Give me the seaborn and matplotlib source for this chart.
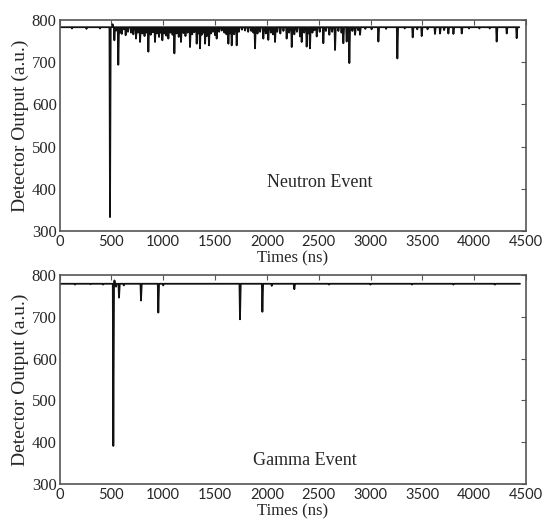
import numpy as np
import pandas as pd
import matplotlib
matplotlib.use("Agg")
import matplotlib.pyplot as plt
import seaborn as sns

# --- valores ---
x_ticks = [0, 500, 1000, 1500, 2000, 2500, 3000, 3500, 4000, 4500]
y_ticks = [300, 400, 500, 600, 700, 800]

neutron_base = 783
neutron_end = 4435
neutron_dip_t = [120, 260, 390,
                 487, 512, 529, 548, 567, 584, 600, 620, 638, 660, 690, 712, 738, 757, 777, 800,
                 820, 840, 857, 880, 900, 921, 940, 960, 975, 992, 1010, 1030, 1050, 1070, 1090,
                 1108, 1130, 1150, 1172, 1195, 1215, 1235, 1259, 1280, 1300, 1323, 1340, 1355,
                 1372, 1390, 1404, 1422, 1442, 1460, 1480, 1500, 1516, 1540, 1565, 1590, 1610,
                 1629, 1645, 1661, 1685, 1709, 1730, 1760, 1790, 1820, 1850, 1870, 1886, 1910,
                 1935, 1966, 1990, 2014, 2040, 2060, 2079, 2100, 2130, 2160, 2191, 2215, 2240,
                 2265, 2290, 2320, 2336, 2360, 2384, 2400, 2416, 2440, 2460, 2481, 2510, 2545,
                 2570, 2603, 2630, 2658, 2690, 2720, 2738, 2770, 2796, 2825, 2851, 2880, 2899,
                 2950, 3010, 3076, 3150, 3259, 3330, 3407, 3450, 3494, 3550, 3622, 3671, 3710,
                 3751, 3800, 3880, 3950, 4050, 4150, 4217, 4314, 4410]
neutron_dip_v = [780, 779, 780,
                 333, 790, 752, 775, 694, 770, 767, 778, 764, 772, 770, 766, 756, 770, 748, 768,
                 762, 770, 725, 765, 771, 748, 768, 760, 770, 752, 768, 763, 756, 770, 765,
                 721, 768, 760, 748, 769, 762, 770, 736, 766, 771, 744, 768, 733,
                 765, 770, 744, 762, 740, 768, 772, 764, 756, 772, 775, 770, 766,
                 744, 768, 740, 766, 740, 772, 777, 775, 772, 774, 770, 733, 768,
                 772, 756, 768, 753, 770, 766, 748, 772, 768, 774, 756, 770, 736,
                 766, 772, 761, 748, 770, 737, 768, 733, 770, 776, 761, 772, 745,
                 774, 765, 772, 729, 774, 770, 745, 749, 698, 774, 765, 776, 765,
                 779, 778, 749, 779, 709, 780, 759, 778, 762, 778, 767, 768, 776,
                 768, 767, 768, 780, 780, 780, 749, 768, 757]

gamma_base = 779
gamma_end = 4442
gamma_dip_t = [150, 300, 420, 519, 530, 545, 574, 620, 786, 953, 1000, 1741, 1957, 2047,
               2265, 2600, 3000, 3400, 3800, 4200]
gamma_dip_v = [777, 778, 777, 391, 787, 772, 746, 775, 739, 710, 775, 694, 712, 774,
               766, 777, 777, 777, 777, 777]


def traza(base, fin, dip_t, dip_v):
    # une la linea base con cada minimo leido
    t = [0]
    v = [base]
    for ti, vi in zip(dip_t, dip_v):
        t += [ti - 5, ti, ti + 7]
        v += [base, vi, base]
    t.append(fin)
    v.append(base)
    return pd.DataFrame({"Times (ns)": t, "Detector Output (a.u.)": v})


df_neutron = traza(neutron_base, neutron_end, neutron_dip_t, neutron_dip_v)
df_gamma = traza(gamma_base, gamma_end, gamma_dip_t, gamma_dip_v)

sns.set_style("white")
plt.rcParams["font.family"] = ["Liberation Serif", "DejaVu Serif"]

fig = plt.figure(figsize=(5.44, 5.23), dpi=100)
ax1 = fig.add_axes([0.1094, 0.5583, 0.8575, 0.4034])
ax2 = fig.add_axes([0.1094, 0.0746, 0.8575, 0.3996])

paneles = [(ax1, df_neutron, "Neutron Event", 2513, 416),
           (ax2, df_gamma, "Gamma Event", 2368, 355)]

for ax, datos, etiqueta, tx, ty in paneles:
    sns.lineplot(data=datos, x="Times (ns)", y="Detector Output (a.u.)", ax=ax,
                 sort=False, estimator=None, color="#111111", linewidth=1.3)
    ax.set_xlim(0, 4500)
    ax.set_ylim(300, 800)
    ax.set_xticks(x_ticks)
    ax.set_yticks(y_ticks)
    ax.set_xlabel("Times (ns)", fontsize=12, labelpad=1)
    ax.set_ylabel("Detector Output (a.u.)", fontsize=14, labelpad=2)
    ax.tick_params(direction="in", top=True, right=True, length=3.5, width=0.8,
                   color="#555555")
    ax.tick_params(axis="y", labelsize=12, pad=2)
    ax.tick_params(axis="x", labelsize=10.5, pad=3)
    for lab in ax.get_xticklabels():
        lab.set_fontfamily("Lato")
    for sp in ax.spines.values():
        sp.set_color("#555555")
        sp.set_linewidth(1.2)
    ax.text(tx, ty, etiqueta, ha="center", va="center", fontsize=13)

fig.savefig("out.png", dpi=100)
